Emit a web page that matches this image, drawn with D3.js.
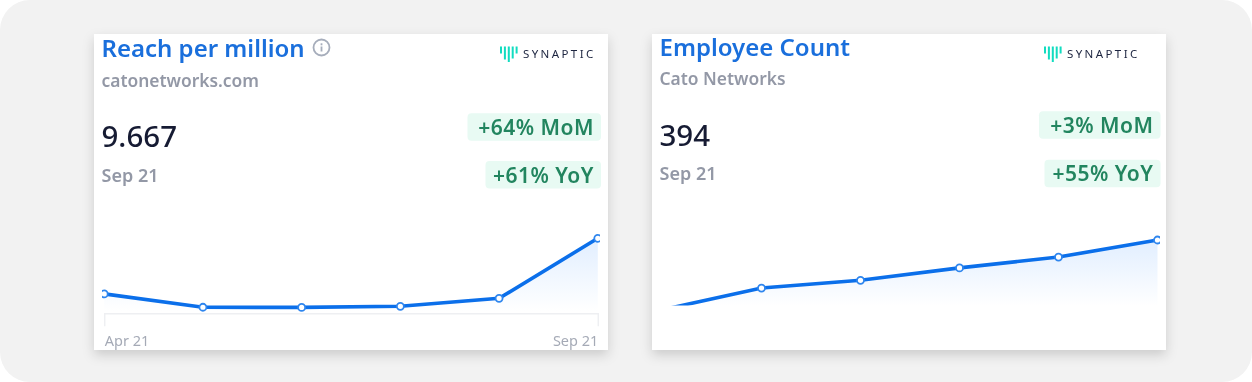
<!DOCTYPE html>
<html>
<head>
<meta charset="utf-8">
<script src="https://cdn.jsdelivr.net/npm/d3@7"></script>
<style>
  html, body { margin: 0; padding: 0; background: #fff; }
  svg { display: block; filter: blur(0.3px); }
  text { font-family: "Noto Sans", "Open Sans", sans-serif; }
</style>
</head>
<body>
<svg id="chart" width="1252" height="382"></svg>
<script>
var months = ["Apr 21", "May 21", "Jun 21", "Jul 21", "Aug 21", "Sep 21"];
var axisLabels = ["Apr 21", "Sep 21"];
var reachValues = [6.17, 5.33, 5.32, 5.39, 5.89, 9.667];
var employeeValues = [349, 363, 368, 376, 383, 394];
var logoBars = [7, 13, 15.5, 12, 7];

var svg = d3.select("#chart"),
    defs = svg.append("defs");

svg.append("rect")
    .attr("width", 1252).attr("height", 382)
    .attr("rx", 30).attr("fill", "#f2f2f2");

var shadow = defs.append("filter").attr("id", "cardShadow")
    .attr("x", "-5%").attr("y", "-5%").attr("width", "110%").attr("height", "115%");
shadow.append("feDropShadow")
    .attr("dx", 0).attr("dy", 5).attr("stdDeviation", 6)
    .attr("flood-color", "#000").attr("flood-opacity", 0.16);

drawCard({
  id: "reach", left: 94, title: "Reach per million", sub: "catonetworks.com",
  value: "9.667", date: "Sep 21", info: true, dy: 0,
  logoX: 500, textX: 523,
  mom: "+64% MoM", yoy: "+61% YoY", momX: 467.5, yoyX: 485.5, badgeRight: 601,
  values: reachValues, domain: [4.95, 9.667],
  xRange: [104.2, 597.8], yRange: [313.3, 238.3],
  clip: [102, 230, 498, 84], fadeTo: 311, showAxis: true
});

drawCard({
  id: "employees", left: 652, title: "Employee Count", sub: "Cato Networks",
  value: "394", date: "Sep 21", info: false, dy: -1.5,
  logoX: 1044, textX: 1067,
  mom: "+3% MoM", yoy: "+55% YoY", momX: 1039, yoyX: 1044.5, badgeRight: 1160.5,
  values: employeeValues, domain: [351.4, 394],
  xRange: [662.5, 1157.5], yRange: [306, 240],
  clip: [652, 230, 508, 75.5], fadeTo: 306, showAxis: false
});

function drawCard(c) {
  var g = svg.append("g").attr("class", "card-" + c.id),
      textX = c.left + 7.5;

  g.append("rect")
      .attr("x", c.left).attr("y", 34)
      .attr("width", 514).attr("height", 316)
      .attr("fill", "#fff")
      .attr("filter", "url(#cardShadow)");

  g.append("text").attr("x", textX).attr("y", 57 + c.dy)
      .attr("font-size", 24).attr("font-weight", 600).attr("fill", "#1a6fdc")
      .text(c.title);
  g.append("text").attr("x", textX).attr("y", 86.5 + c.dy)
      .attr("font-size", 17.4).attr("font-weight", 600).attr("fill", "#9398a6")
      .text(c.sub);
  g.append("text").attr("x", textX).attr("y", 147 + c.dy)
      .attr("font-size", 29.5).attr("font-weight", 500).attr("fill", "#161b33")
      .text(c.value);
  g.append("text").attr("x", textX).attr("y", 181.5 + c.dy)
      .attr("font-size", 18).attr("font-weight", 600).attr("fill", "#9398a6")
      .text(c.date);

  if(c.info) drawInfo(g, 321.5, 47.5);
  drawLogo(g, c.logoX, c.textX);
  drawBadge(g, c.mom, c.momX, c.badgeRight, 113.3 + c.dy * 1.3);
  drawBadge(g, c.yoy, c.yoyX, c.badgeRight, 161 + c.dy * 0.9);
  drawPlot(g, c);
}

function drawInfo(g, cx, cy) {
  g.append("circle").attr("cx", cx).attr("cy", cy).attr("r", 8)
      .attr("fill", "none").attr("stroke", "#a6adbb").attr("stroke-width", 1.8);
  g.append("rect").attr("x", cx - 0.9).attr("y", cy - 1)
      .attr("width", 1.8).attr("height", 5).attr("fill", "#a6adbb");
  g.append("rect").attr("x", cx - 0.9).attr("y", cy - 4.2)
      .attr("width", 1.8).attr("height", 2).attr("fill", "#a6adbb");
}

function drawLogo(g, x, textX) {
  g.selectAll(".logoBar").data(logoBars).enter().append("rect")
      .attr("class", "logoBar")
      .attr("x", (d, i) => x + i * 3.9)
      .attr("y", 46.5)
      .attr("width", 2)
      .attr("height", d => d)
      .attr("fill", "#12dcc0");
  g.append("text").attr("x", textX).attr("y", 58)
      .attr("font-size", 11.5).attr("letter-spacing", 2.4).attr("fill", "#1d2540")
      .text("SYNAPTIC");
}

function drawBadge(g, label, x0, x1, y) {
  g.append("rect")
      .attr("x", x0).attr("y", y)
      .attr("width", x1 - x0).attr("height", 27.5)
      .attr("rx", 4).attr("fill", "#e8faf3");
  g.append("text")
      .attr("x", x1 - 7).attr("y", y + 21.5)
      .attr("text-anchor", "end")
      .attr("font-size", 21).attr("font-weight", 600)
      .attr("letter-spacing", 0.5).attr("fill", "#22855f")
      .text(label);
}

function drawPlot(g, c) {
  var x = d3.scalePoint().domain(months).range(c.xRange),
      y = d3.scaleLinear().domain(c.domain).range(c.yRange),
      points = months.map((m, i) => ({ month: m, value: c.values[i] }));

  var grad = defs.append("linearGradient").attr("id", "fade-" + c.id)
      .attr("gradientUnits", "userSpaceOnUse")
      .attr("x1", 0).attr("x2", 0)
      .attr("y1", y(d3.max(c.values))).attr("y2", c.fadeTo);
  grad.append("stop").attr("offset", 0).attr("stop-color", "#e1eeff");
  grad.append("stop").attr("offset", 1).attr("stop-color", "#ffffff");

  defs.append("clipPath").attr("id", "clip-" + c.id).append("rect")
      .attr("x", c.clip[0]).attr("y", c.clip[1])
      .attr("width", c.clip[2]).attr("height", c.clip[3]);

  if(c.showAxis) {
    var axis = g.append("g")
        .attr("transform", "translate(0," + c.yRange[0] + ")")
        .call(d3.axisBottom(x).tickValues(axisLabels).tickSize(0).tickSizeOuter(13).tickPadding(22));
    axis.select(".domain").attr("stroke", "#eeeff2").attr("stroke-width", 1.5);
    axis.selectAll("text")
        .attr("font-size", 14.5).attr("fill", "#a5aab6")
        .style("font-family", '"Noto Sans", sans-serif')
        .attr("text-anchor", (d, i) => i ? "end" : "start");
  }

  var plot = g.append("g").attr("clip-path", "url(#clip-" + c.id + ")");

  plot.append("path").datum(points)
      .attr("fill", "url(#fade-" + c.id + ")")
      .attr("d", d3.area().x(d => x(d.month)).y0(c.fadeTo).y1(d => y(d.value)));

  plot.append("path").datum(points)
      .attr("fill", "none").attr("stroke", "#0b6fea").attr("stroke-width", 3.6)
      .attr("d", d3.line().x(d => x(d.month)).y(d => y(d.value)));

  plot.selectAll("circle").data(points.slice(c.showAxis ? 0 : 1)).enter().append("circle")
      .attr("cx", d => x(d.month))
      .attr("cy", d => y(d.value))
      .attr("r", 3.5)
      .attr("fill", "#fff")
      .attr("stroke", "#2f86ee")
      .attr("stroke-width", 1.8);
}
</script>
</body>
</html>
